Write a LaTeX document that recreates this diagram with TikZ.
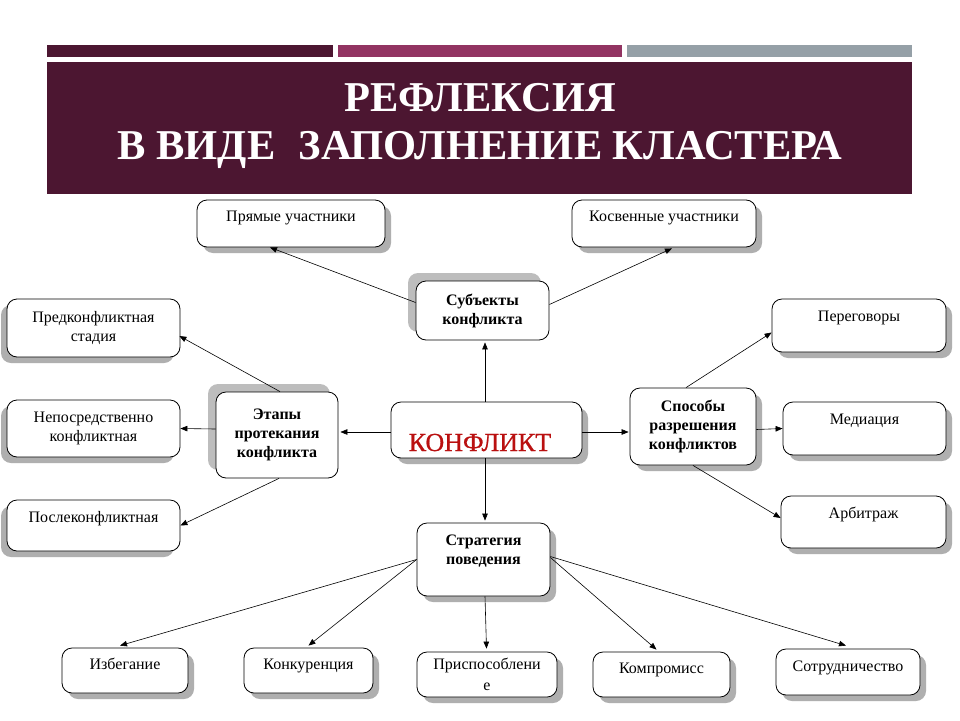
\documentclass[tikz,border=0pt]{standalone}
\usepackage{fontspec}
\setmainfont{Liberation Serif}
\newfontface\konffont[FakeBold=0.8]{Liberation Serif}
\usetikzlibrary{arrows.meta,shadows,calc}
\definecolor{bannercol}{HTML}{4C1631}
\definecolor{barA}{HTML}{4C1631}
\definecolor{barB}{HTML}{923462}
\definecolor{barC}{HTML}{95A0A7}
\definecolor{shadecol}{HTML}{AFAFAF}
\definecolor{shadeUL}{HTML}{BDBDBD}
\definecolor{konfred}{HTML}{BA1010}
\tikzset{
  box/.style={draw=black, line width=0.8pt, rounded corners=10pt, fill=white,
    inner sep=0pt, align=center, font=\fontsize{16}{18.5}\selectfont},
  boldbox/.style={box, font=\fontsize{16}{19}\selectfont\bfseries},
  shRB/.style={drop shadow={shadow xshift=6pt, shadow yshift=-6pt, fill=shadecol, opacity=1}},
  shLB/.style={drop shadow={shadow xshift=-6pt, shadow yshift=-6pt, fill=shadecol, opacity=1}},
  shUL/.style={drop shadow={shadow xshift=-8pt, shadow yshift=8pt, fill=shadeUL, opacity=1}},
  toptxt/.style 2 args={text height=#1pt, text depth=#2pt},
  arr/.style={-{Triangle[length=7pt,width=5.5pt]}, line width=0.6pt},
  titletxt/.style={text=white, font=\fontsize{42.5}{47}\selectfont\bfseries, anchor=base, inner sep=0pt}
}
\begin{document}
\begin{tikzpicture}[x=1pt,y=-1pt]
\useasboundingbox (0,0) rectangle (960,720);
\fill[white] (0,0) rectangle (960,720);
% header
\fill[barA] (47,45) rectangle (333,57);
\fill[barB] (338,45) rectangle (622,57);
\fill[barC] (627,45) rectangle (912,57);
\fill[bannercol] (47,62) rectangle (912,194);
\node[titletxt] (t1) at (480,111) {РЕФЛЕКСИЯ};
\node[titletxt] (t2) at (480,159) {В ВИДЕ\hspace{0.3em} ЗАПОЛНЕНИЕ КЛАСТЕРА};
% nodes
\node[box, shRB, minimum width=188pt, minimum height=47pt, toptxt={21}{26}] (prm) at (291,223.5) {Прямые участники};
\node[box, shRB, minimum width=184pt, minimum height=47pt, toptxt={21}{26}] (ksv) at (664,223.5) {Косвенные участники};
\node[boldbox, shUL, minimum width=133pt, minimum height=59pt] (subj) at (482.5,310.5) {Субъекты\\конфликта};
\node[box, shLB, minimum width=173pt, minimum height=58pt] (pred) at (93.5,328) {Предконфликтная\\стадия};
\node[box, shLB, minimum width=173pt, minimum height=57pt] (nep) at (93.5,428.5) {Непосредственно\\конфликтная};
\node[box, shLB, minimum width=173pt, minimum height=51pt, toptxt={22}{29}] (psl) at (93.5,525.5) {Послеконфликтная};
\node[boldbox, shUL, minimum width=122pt, minimum height=86pt] (etp) at (277,435) {Этапы\\протекания\\конфликта};
\node[box, shRB, minimum width=191pt, minimum height=56pt, toptxt={49}{7},
  font=\fontsize{26}{28}\konffont, text=konfred] (konf) at (486.5,430) {КОНФЛИКТ\hspace*{13pt}};
\node[boldbox, shRB, minimum width=126pt, minimum height=77pt] (spo) at (693,426.5) {Способы\\разрешения\\конфликтов};
\node[box, shRB, minimum width=174pt, minimum height=53pt, toptxt={22}{31}] (prg) at (859,325.5) {Переговоры};
\node[box, shRB, minimum width=163pt, minimum height=53pt, toptxt={22}{31}] (med) at (864.5,428.5) {Медиация};
\node[box, shRB, minimum width=165pt, minimum height=52pt, toptxt={22}{30}] (arb) at (863.5,522) {Арбитраж};
\node[boldbox, shRB, minimum width=133pt, minimum height=73pt] (str) at (483.5,559.5) {Стратегия\\поведения\\~};
\node[box, shRB, minimum width=126pt, minimum height=45pt, toptxt={21}{24}] (izb) at (125,670.5) {Избегание};
\node[box, shRB, minimum width=129pt, minimum height=45pt, toptxt={21}{24}] (knk) at (308.5,670.5) {Конкуренция};
\node[box, shRB, minimum width=140pt, minimum height=45pt, font=\fontsize{16}{21}\selectfont] (prs) at (487,674.5) {Приспособлени\\е};
\node[box, shRB, minimum width=137pt, minimum height=45pt, toptxt={21}{24}] (kmp) at (661.5,674.5) {Компромисс};
\node[box, shRB, minimum width=144pt, minimum height=46pt, toptxt={22}{24}] (stu) at (848,672) {Сотрудничество};
% connectors
\draw[arr] ($(subj.west)+(0,-8)$) -- ($(prm.south)+(-21,0)$);
\draw[arr] ($(subj.east)+(0,-6)$) -- ($(ksv.south)+(8,1)$);
\draw[arr] ($(konf.north)+(-1.5,0)$) -- ($(subj.south)+(2.5,2)$);
\draw[arr] ($(konf.west)+(0,2)$) -- ($(etp.east)+(2,-3)$);
\draw[arr] ($(konf.east)+(0,2)$) -- ($(spo.west)+(-1,5.5)$);
\draw[arr] ($(konf.south)+(-1.5,0)$) -- ($(str.north)+(1.5,-2)$);
\draw[arr] ($(etp.north)+(3,0)$) -- ($(pred.east)+(-1,8)$);
\draw[arr] ($(etp.west)+(0,-6)$) -- (nep.east);
\draw[arr] ($(etp.south)+(2,0)$) -- (psl.east);
\draw[arr] ($(spo.north)+(-7,0)$) -- ($(prg.west)+(0,7)$);
\draw[arr] ($(spo.east)+(0,3)$) -- (med.west);
\draw[arr] (spo.south) -- ($(arb.west)+(0,-4)$);
\draw[arr] (str.west) -- ($(izb.north)+(-5,-2)$);
\draw[arr] (str.west) -- ($(knk.north)+(0,-2)$);
\draw[arr] ($(str.south)+(1.5,0)$) -- ($(prs.north)+(-0.5,-3)$);
\draw[arr] ($(str.east)+(0,-2)$) -- ($(kmp.north)+(-5,-2)$);
\draw[arr] ($(str.east)+(0,-3)$) -- ($(stu.north)+(-2,-3)$);
\end{tikzpicture}
\end{document}
